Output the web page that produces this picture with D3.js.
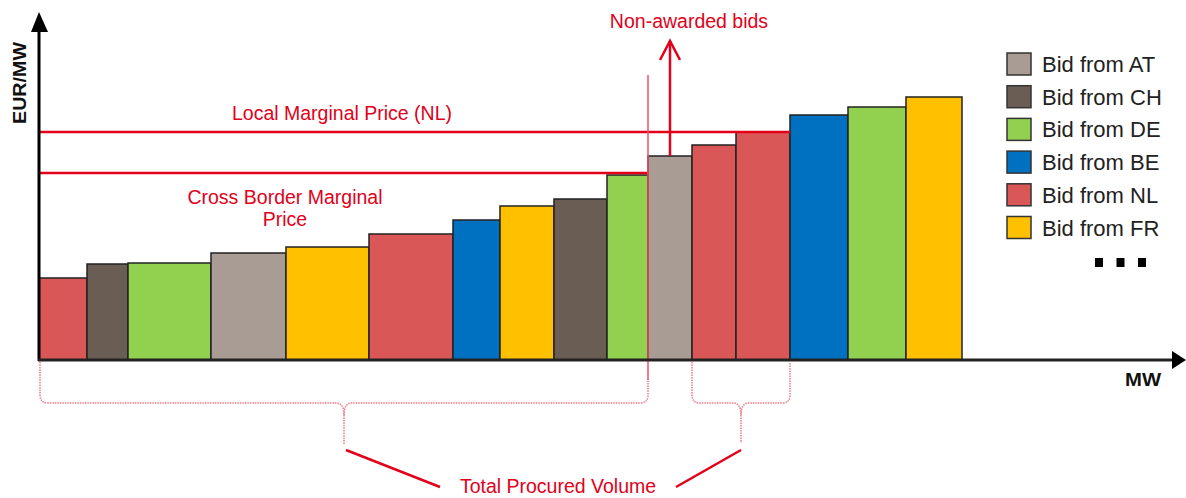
<!DOCTYPE html>
<html>
<head>
<meta charset="utf-8">
<script src="https://cdn.jsdelivr.net/npm/d3@7"></script>
<style>
  body { margin: 0; background: #fff; }
  text { font-family: "Liberation Sans", Arial, sans-serif; }
</style>
</head>
<body>
<svg id="chart" width="1186" height="498"></svg>
<script>
// bids in merit order
const bidCountry = ["NL","CH","DE","AT","FR","NL","BE","FR","CH","DE","AT","NL","NL","BE","DE","FR"];
const bidVolume = [48,41,83,75,83,84,47,54,53,41,44,44,54,58,58,56]; // MW
const bidPrice = [82,96,97,107,113,126,140,154,161,185,204,215,228,245,253,263]; // EUR/MW

const legendCountries = ["AT","CH","DE","BE","NL","FR"];
const countryColor = {AT:"#a89c94", CH:"#6a5d54", DE:"#92d050", BE:"#0070c0", NL:"#d95757", FR:"#ffc000"};

const localMarginal = 228;    // Local Marginal Price (NL)
const crossMarginal = 187;    // Cross Border Marginal Price
const crossAwarded = [0, 9];  // bids awarded cross border
const localAwarded = [11, 12]; // extra local NL bids
const nonAwardedBid = 10;

const red = "#e2001a";
const svg = d3.select("#chart");

// cumulative volume
let cum = 0;
const bars = bidCountry.map((c, i) => {
  const b = {country: c, x0: cum, x1: cum + bidVolume[i], price: bidPrice[i]};
  cum += bidVolume[i];
  return b;
});

const x = d3.scaleLinear().domain([0, 923]).range([39, 962]);
const y = d3.scaleLinear().domain([0, 263]).range([360, 97]);

// bars
svg.append("g").selectAll("rect").data(bars).join("rect")
  .attr("x", d => x(d.x0))
  .attr("y", d => y(d.price))
  .attr("width", d => x(d.x1) - x(d.x0))
  .attr("height", d => y(0) - y(d.price))
  .attr("fill", d => countryColor[d.country])
  .attr("stroke", "#222")
  .attr("stroke-width", 1.5);

// marginal price lines
svg.append("line")
  .attr("x1", x(0)).attr("x2", x(bars[localAwarded[1]].x1))
  .attr("y1", y(localMarginal)).attr("y2", y(localMarginal))
  .attr("stroke", red).attr("stroke-width", 2.5);
svg.append("line")
  .attr("x1", x(0)).attr("x2", x(bars[crossAwarded[1]].x1))
  .attr("y1", y(crossMarginal)).attr("y2", y(crossMarginal))
  .attr("stroke", red).attr("stroke-width", 2.5);

// thin separator line
const sepX = x(bars[crossAwarded[1]].x1);
svg.append("line")
  .attr("x1", sepX).attr("x2", sepX)
  .attr("y1", 75).attr("y2", 380)
  .attr("stroke", "#f0506a").attr("stroke-width", 1.5);

// non-awarded arrow
const nax = (x(bars[nonAwardedBid].x0) + x(bars[nonAwardedBid].x1)) / 2;
svg.append("line")
  .attr("x1", nax).attr("x2", nax)
  .attr("y1", y(bars[nonAwardedBid].price)).attr("y2", 41)
  .attr("stroke", red).attr("stroke-width", 2.5);
svg.append("path")
  .attr("d", `M${nax - 10},60 L${nax},41 L${nax + 10},60`)
  .attr("fill", "none").attr("stroke", red).attr("stroke-width", 2.5);

// curly braces under the axis
function brace(xa, xb, yTop, yMid, yTip) {
  const p = d3.path();
  const m = (xa + xb) / 2, r = 8;
  p.moveTo(xa, yTop);
  p.lineTo(xa, yMid - r);
  p.quadraticCurveTo(xa, yMid, xa + r, yMid);
  p.lineTo(m - r, yMid);
  p.quadraticCurveTo(m, yMid, m, yMid + r * 1.5);
  p.lineTo(m, yTip);
  p.moveTo(m, yMid + r * 1.5);
  p.quadraticCurveTo(m, yMid, m + r, yMid);
  p.lineTo(xb - r, yMid);
  p.quadraticCurveTo(xb, yMid, xb, yMid - r);
  p.lineTo(xb, yTop);
  return p.toString();
}
const braces = [
  [x(bars[crossAwarded[0]].x0) + 1, x(bars[crossAwarded[1]].x1), 445],
  [x(bars[localAwarded[0]].x0), x(bars[localAwarded[1]].x1), 443]
];
svg.append("g").selectAll("path").data(braces).join("path")
  .attr("d", d => brace(d[0], d[1], 362, 403, d[2]))
  .attr("fill", "none")
  .attr("stroke", "#f27a8a")
  .attr("stroke-width", 1.5)
  .attr("stroke-dasharray", "1.5,1");

// connector lines to label
svg.append("line").attr("x1", braces[0][0] / 2 + braces[0][1] / 2 + 2).attr("y1", 450)
  .attr("x2", 440).attr("y2", 487).attr("stroke", red).attr("stroke-width", 2.5);
svg.append("line").attr("x1", braces[1][0] / 2 + braces[1][1] / 2).attr("y1", 450)
  .attr("x2", 676).attr("y2", 487).attr("stroke", red).attr("stroke-width", 2.5);

// axes
svg.append("line").attr("x1", 39).attr("x2", 39).attr("y1", 361).attr("y2", 28)
  .attr("stroke", "#000").attr("stroke-width", 3);
svg.append("path").attr("d", "M31,32 L39,12 L48,32 Z").attr("fill", "#000");
svg.append("line").attr("x1", 38).attr("x2", 1174).attr("y1", 360).attr("y2", 360)
  .attr("stroke", "#222").attr("stroke-width", 3);
svg.append("path").attr("d", "M1172,351 L1186,360 L1172,369 Z").attr("fill", "#000");

svg.append("text")
  .attr("transform", "translate(26,83) rotate(-90)")
  .attr("text-anchor", "middle")
  .attr("font-size", 18).attr("font-weight", "bold").attr("fill", "#111")
  .attr("textLength", 82).attr("lengthAdjust", "spacingAndGlyphs")
  .text("EUR/MW");
svg.append("text")
  .attr("x", 1125).attr("y", 386)
  .attr("font-size", 18).attr("font-weight", "bold").attr("fill", "#111")
  .attr("textLength", 36).attr("lengthAdjust", "spacingAndGlyphs")
  .text("MW");

// red annotations
const notes = [
  {t: "Non-awarded bids", x: 689, y: 28},
  {t: "Local Marginal Price (NL)", x: 342, y: 120},
  {t: "Cross Border Marginal", x: 285, y: 204},
  {t: "Price", x: 285, y: 226},
  {t: "Total Procured Volume", x: 558, y: 493}
];
svg.append("g").selectAll("text").data(notes).join("text")
  .attr("x", d => d.x).attr("y", d => d.y)
  .attr("text-anchor", "middle")
  .attr("font-size", 19.5)
  .attr("fill", red)
  .text(d => d.t);

// legend
const lg = svg.append("g").attr("transform", "translate(1007,53)");
const rows = lg.selectAll("g").data(legendCountries).join("g")
  .attr("transform", (d, i) => `translate(0,${i * 32.7})`);
rows.append("rect")
  .attr("width", 24).attr("height", 22)
  .attr("fill", d => countryColor[d])
  .attr("stroke", "#333").attr("stroke-width", 1.5);
rows.append("text")
  .attr("x", 35).attr("y", 19)
  .attr("font-size", 22).attr("fill", "#222")
  .text(d => "Bid from " + d);
lg.selectAll("rect.dot").data([0, 1, 2]).join("rect")
  .attr("class", "dot")
  .attr("x", d => 88 + d * 21.5).attr("y", 205)
  .attr("width", 8).attr("height", 9)
  .attr("fill", "#000");
</script>
</body>
</html>
